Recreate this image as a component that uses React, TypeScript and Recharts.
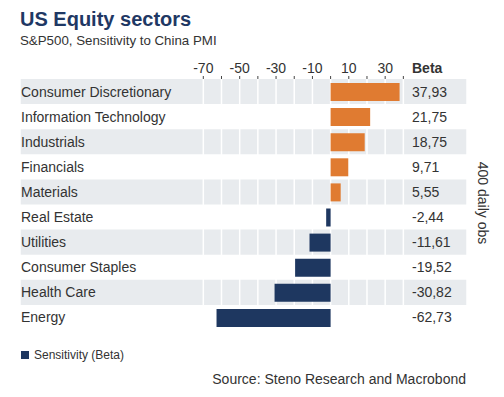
import React from 'react';
import { BarChart, Bar, XAxis, YAxis, Cell, ReferenceArea, CartesianGrid } from 'recharts';

const categories = [
  'Consumer Discretionary',
  'Information Technology',
  'Industrials',
  'Financials',
  'Materials',
  'Real Estate',
  'Utilities',
  'Consumer Staples',
  'Health Care',
  'Energy',
];
const betas = [37.93, 21.75, 18.75, 9.71, 5.55, -2.44, -11.61, -19.52, -30.82, -62.73];
const xTicks = [-70, -60, -50, -40, -30, -20, -10, 0, 10, 20, 30, 40];
const xTickLabels = [-70, -50, -30, -10, 10, 30];

const POS = '#E07B31';
const NEG = '#1E3760';
const BAND = '#E8EBEE';
const TEXT = '#333333';
const FONT = '"Liberation Sans", Arial, Helvetica, sans-serif';

const data = categories.map((c, i) => ({ name: c, value: betas[i] }));
const fmt = (v: number) => (typeof v === 'number' ? v.toFixed(2).replace('.', ',') : '');

const XTick = (props: any) => {
  const { x, payload } = props;
  if (!xTickLabels.includes(payload.value)) return <g />;
  return (
    <text x={x} y={73} textAnchor="middle" fontSize={14} fill={TEXT} fontFamily={FONT}>
      {payload.value}
    </text>
  );
};

const YTick = (props: any) => {
  const { x, y, payload } = props;
  const idx = categories.indexOf(payload.value);
  return (
    <g>
      <text x={x + 1} y={y} dy="0.36em" textAnchor="start" fontSize={14} fill={TEXT} fontFamily={FONT}>
        {payload.value}
      </text>
      <text x={x + 392} y={y} dy="0.36em" textAnchor="start" fontSize={14} fill={TEXT} fontFamily={FONT}>
        {fmt(betas[idx])}
      </text>
    </g>
  );
};

export default function App() {
  return (
    <div style={{ position: 'absolute', left: 0, top: 0, width: 504, height: 397, background: '#fff', fontFamily: FONT }}>
      <BarChart
        width={504}
        height={397}
        layout="vertical"
        data={data}
        margin={{ top: 59, bottom: 67, left: 0, right: 37 }}
      >
        {categories.filter((_, i) => i % 2 === 0).map((c) => (
          <ReferenceArea
            key={c}
            y1={c}
            y2={c}
            fill={BAND}
            fillOpacity={1}
            stroke="none"
            ifOverflow="visible"
            {...({ zIndex: -200 } as any)}
          />
        ))}
        <CartesianGrid horizontal={false} vertical stroke="#ffffff" strokeWidth={1.5} {...({ zIndex: -100 } as any)} />
        <XAxis
          type="number"
          orientation="top"
          domain={[-170.8, 75]}
          allowDataOverflow
          ticks={xTicks}
          interval={0}
          height={20}
          axisLine={false}
          tickSize={3}
          tickLine={{ stroke: '#444' }}
          tick={XTick}
        />
        <YAxis
          type="category"
          dataKey="name"
          width={20}
          axisLine={false}
          tickLine={false}
          tickSize={0}
          tickMargin={0}
          interval={0}
          tick={YTick}
          {...({ zIndex: 600 } as any)}
        />
        <Bar dataKey="value" barSize={18} isAnimationActive={false}>
          {data.map((d) => (
            <Cell key={d.name} fill={d.value >= 0 ? POS : NEG} />
          ))}
        </Bar>
      </BarChart>
      <svg width={504} height={397} style={{ position: 'absolute', left: 0, top: 0, pointerEvents: 'none' }}>
        <text x={20} y={26} fontSize={20} fontWeight="bold" fill="#1F3864" fontFamily={FONT}>
          US Equity sectors
        </text>
        <text x={20} y={45} fontSize={13.3} fill={TEXT} fontFamily={FONT}>
          S&amp;P500, Sensitivity to China PMI
        </text>
        <text x={412} y={73} fontSize={14} fontWeight="bold" fill={TEXT} fontFamily={FONT}>
          Beta
        </text>
        <text
          x={483}
          y={203}
          fontSize={14}
          fill={TEXT}
          fontFamily={FONT}
          textAnchor="middle"
          dominantBaseline="central"
          transform="rotate(90 483 203)"
        >
          400 daily obs
        </text>
        <rect x={21} y={351} width={8} height={8} fill={NEG} />
        <text x={34} y={359} fontSize={12} fill={TEXT} fontFamily={FONT}>
          Sensitivity (Beta)
        </text>
        <text x={466} y={384} fontSize={14} fill={TEXT} fontFamily={FONT} textAnchor="end">
          Source: Steno Research and Macrobond
        </text>
      </svg>
    </div>
  );
}
